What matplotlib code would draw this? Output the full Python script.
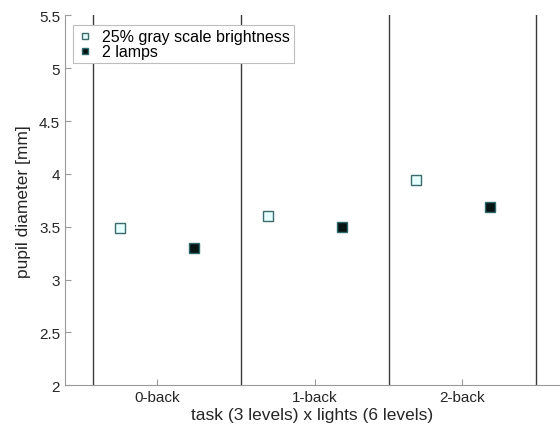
import matplotlib
matplotlib.use("Agg")
import matplotlib.pyplot as plt
import numpy as np

plt.rcParams['font.family'] = ['Liberation Sans', 'DejaVu Sans']

# data
tasks = ['0-back', '1-back', '2-back']
gray25 = [3.485, 3.60, 3.94]   # 25% gray scale brightness
lamps2 = [3.30, 3.50, 3.69]    # 2 lamps

task_start = np.array([0, 6, 12])  # each task spans 6 light levels
sep_x = [0.5, 6.5, 12.5, 18.5]
tick_x = [3.1, 9.5, 15.5]

fig = plt.figure(figsize=(5.6, 4.31), dpi=100)
ax = fig.add_axes([0.116, 0.104, 0.884, 0.858])

for s in sep_x:
    ax.axvline(s, color='#3a3a3a', lw=1.0, zorder=1)

ax.plot(task_start + 1.6, gray25, 's', ms=7, mfc='#e6ffff', mec='#3d6a6a',
        mew=1.0, ls='none', label='25% gray scale brightness', zorder=3)
ax.plot(task_start + 4.6, lamps2, 's', ms=7, mfc='#061414', mec='#2f6a6a',
        mew=1.0, ls='none', label='2 lamps', zorder=3)

ax.set_xlim(-0.64, 19.46)
ax.set_ylim(2, 5.5)
ax.set_yticks(np.arange(2, 5.51, 0.5))
ax.set_yticklabels(['2', '2.5', '3', '3.5', '4', '4.5', '5', '5.5'])
ax.set_xticks(tick_x)
ax.set_xticklabels(tasks)

for side in ['top', 'right']:
    ax.spines[side].set_visible(False)
for side in ['left', 'bottom']:
    ax.spines[side].set_color('#9a9a9a')
    ax.spines[side].set_linewidth(0.8)
ax.tick_params(direction='in', length=4, color='#9a9a9a', labelcolor='#262626',
               labelsize=11)

ax.set_ylabel('pupil diameter [mm]', fontsize=12.5, color='#262626', labelpad=6)
ax.set_xlabel('task (3 levels) x lights (6 levels)', fontsize=12.5,
              color='#262626', labelpad=2)

leg = ax.legend(loc='upper left', bbox_to_anchor=(0.0, 0.995), fontsize=11.5,
                markerscale=0.6, handlelength=1.0, handletextpad=0.6,
                borderpad=0.25, labelspacing=0.0, fancybox=False, framealpha=1)
leg.get_frame().set_edgecolor('#bdbdbd')
leg.get_frame().set_linewidth(0.8)

fig.savefig('out.png', dpi=100)
